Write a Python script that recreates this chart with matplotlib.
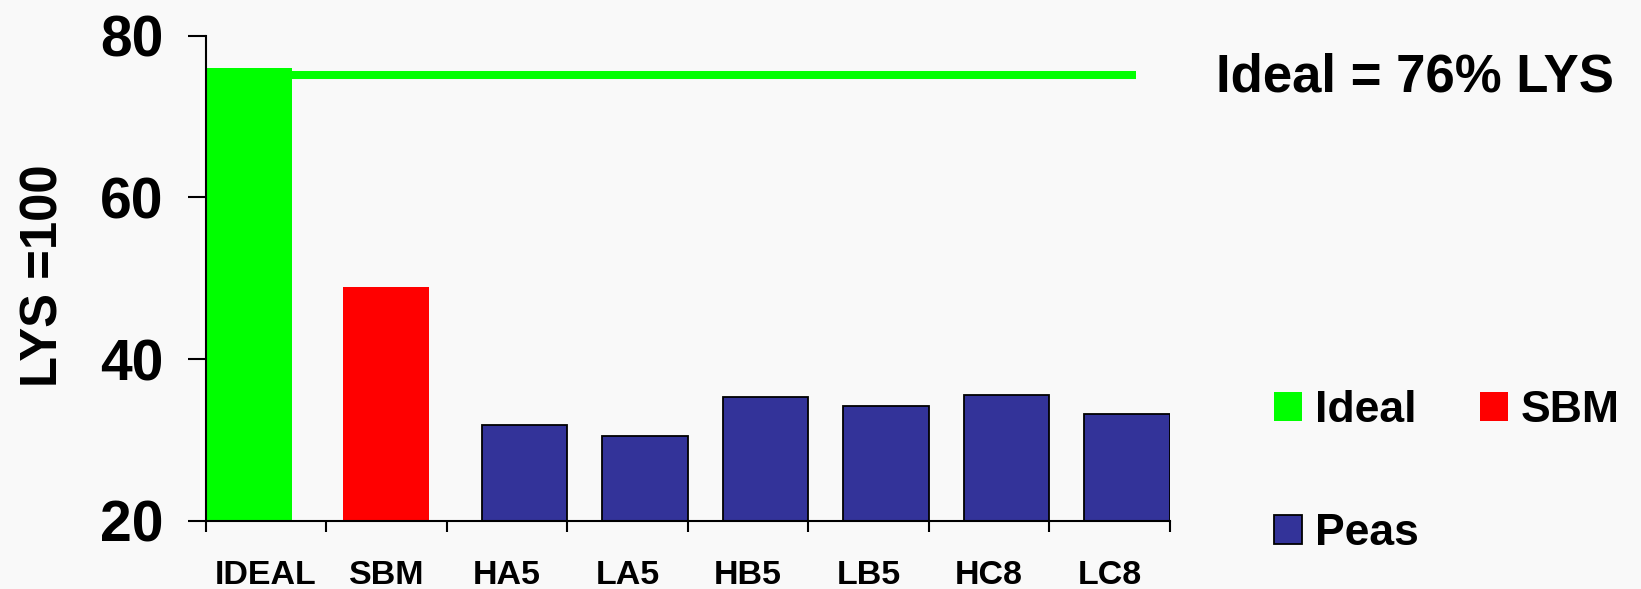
import matplotlib
matplotlib.use("Agg")
import matplotlib.pyplot as plt
import numpy as np

categories = ["IDEAL", "SBM", "HA5", "LA5", "HB5", "LB5", "HC8", "LC8"]
ideal_value = [76.0]
sbm_value = [48.9]
peas_values = [31.8, 30.5, 35.3, 34.2, 35.6, 33.2]
ideal_line = 75.1
y_ticks = [20, 40, 60, 80]

plt.rcParams['font.family'] = ['Liberation Sans', 'DejaVu Sans']
plt.rcParams['font.weight'] = 'bold'

bg = '#f9f9f9'
fig = plt.figure(figsize=(16.41, 5.89), dpi=100, facecolor=bg)
ax = fig.add_axes([205.5/1641, (589-520.7)/589, (1170-205.5)/1641, (520.7-35.7)/589])
ax.set_facecolor(bg)

w = 0.71
base = 20
ax.hlines(ideal_line, 0, 7.72, color='#00ff00', lw=5.8, zorder=1)
b1 = ax.bar([0.01], [v - base for v in ideal_value], bottom=base, width=w, align='edge',
            color='#00ff00', label='Ideal', zorder=2)
b2 = ax.bar([1.14], [v - base for v in sbm_value], bottom=base, width=w, align='edge',
            color='#ff0000', label='SBM', zorder=2)
px = np.arange(2, 2 + len(peas_values)) + 1 - w
b3 = ax.bar(px, [v - base for v in peas_values], bottom=base, width=w, align='edge',
            color='#333399', edgecolor='black', linewidth=1.3, label='Peas', zorder=2)

ax.set_xlim(0, 8)
ax.set_ylim(20, 80)
ax.set_yticks(y_ticks)
ax.set_yticklabels([str(t) for t in y_ticks], fontsize=41, fontweight='bold')
ax.tick_params(axis='y', length=13, width=1.5, pad=17, direction='out')
ax.set_xticks(np.arange(0, 9))
ax.set_xticklabels([])
ax.tick_params(axis='x', which='major', length=8, width=1.5, direction='out')
ax.set_xticks(np.arange(len(categories)) + 0.5, minor=True)
ax.set_xticklabels(categories, minor=True, fontsize=24.5, fontweight='bold')
ax.tick_params(axis='x', which='minor', length=0, pad=28)

for s in ['top', 'right']:
    ax.spines[s].set_visible(False)
for s in ['left', 'bottom']:
    ax.spines[s].set_linewidth(1.5)

fig.text(44/1641, 1 - 276/589, 'LYS =100', rotation=90, fontsize=36.5,
         fontweight='bold', ha='center', va='center')

fig.text(1216/1641, 1 - 91/589, 'Ideal = 76% LYS', fontsize=38, fontweight='bold',
         ha='left', va='baseline')

leg = fig.legend(handles=[b1, b3, b2], labels=['Ideal', 'Peas', 'SBM'], ncol=2,
                 loc='upper left', bbox_to_anchor=(1274/1641, 1 - 390/589),
                 frameon=False, fontsize=32, handlelength=0.62, handleheight=0.62,
                 handletextpad=0.3, columnspacing=1.38, labelspacing=1.85,
                 borderpad=0, borderaxespad=0)
for t in leg.get_texts():
    t.set_fontweight('bold')

fig.savefig('out.png', dpi=100, facecolor=bg)
